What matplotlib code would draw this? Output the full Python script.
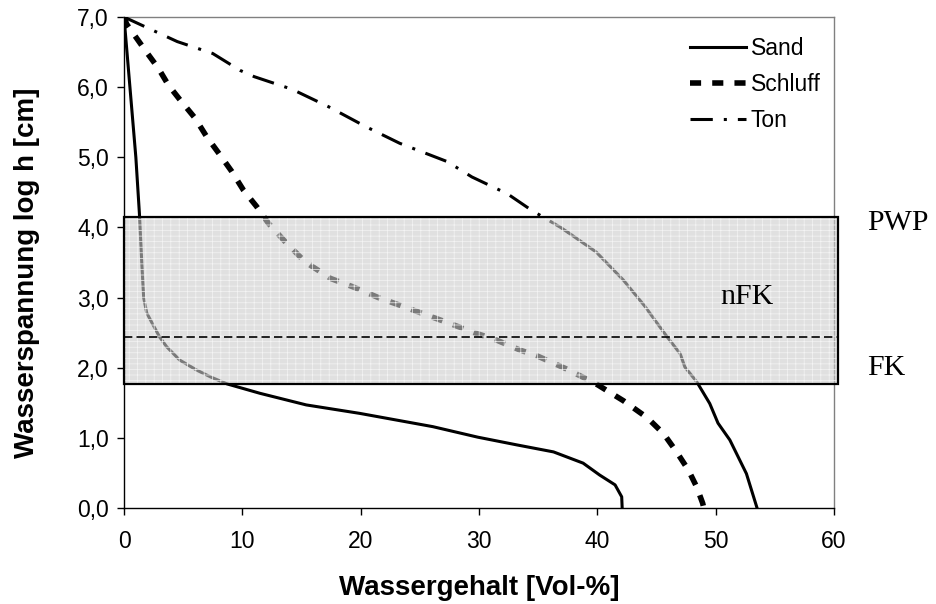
import matplotlib
matplotlib.use("Agg")
import matplotlib.pyplot as plt
from matplotlib.patches import Rectangle
from matplotlib.ticker import FuncFormatter

# Wassergehalt [Vol-%] vs. log h [cm]
sand_x = [0.0, 0.5, 1.0, 1.3, 1.5, 1.66, 1.92, 3.0, 3.6, 4.7, 6.1, 7.3, 8.7, 11.5, 15.4, 19.9,
          26.1, 29.9, 33.2, 36.3, 38.8, 40.2, 41.5, 42.06, 42.1]
sand_y = [7.0, 6.0, 5.0, 4.2, 3.5, 3.0, 2.78, 2.44, 2.3, 2.11, 1.97, 1.87, 1.77, 1.635, 1.47, 1.35,
          1.16, 1.01, 0.90, 0.80, 0.64, 0.47, 0.33, 0.16, 0.0]

schluff_x = [0.0, 0.22, 1.77, 2.9, 3.75, 4.73, 6.0, 7.0, 8.0, 9.1, 10.1, 11.2, 12.2, 13.6, 15.3,
             17.5, 19.4, 21.5, 23.5, 25.6, 27.4, 29.6, 31.4, 33.5, 34.9, 37.3, 39.8, 42.2, 44.2,
             45.6, 46.7, 47.7, 48.4, 48.9, 49.0]
schluff_y = [7.0, 6.9, 6.53, 6.27, 6.03, 5.82, 5.56, 5.29, 5.06, 4.8, 4.53, 4.3, 4.06, 3.8, 3.51,
             3.27, 3.15, 3.0, 2.88, 2.75, 2.64, 2.5, 2.4, 2.25, 2.17, 1.99, 1.78, 1.53, 1.29,
             1.06, 0.80, 0.54, 0.30, 0.07, 0.0]

ton_x = [0.0, 4.5, 7.5, 9.8, 11.0, 14.2, 17.3, 20.4, 23.3, 27.3, 29.4, 32.4, 34.4, 36.9, 37.6,
         39.9, 42.2, 44.0, 45.9, 47.0, 47.4, 48.4, 49.5, 50.2, 51.2, 52.6, 53.5]
ton_y = [7.0, 6.65, 6.48, 6.24, 6.15, 5.97, 5.72, 5.44, 5.2, 4.94, 4.72, 4.48, 4.25, 4.0, 3.92,
         3.65, 3.25, 2.88, 2.44, 2.2, 2.01, 1.8, 1.49, 1.21, 0.97, 0.49, 0.0]
ton_split = 14  # ab hier dichte Punkte -> durchgezogen

nfk_bottom = 1.77   # FK
nfk_top = 4.15      # PWP
fk_line = 2.44

plt.rcParams['font.family'] = ['Liberation Sans', 'DejaVu Sans']
plt.rcParams['hatch.linewidth'] = 0.5

fig = plt.figure(figsize=(9.36, 6.04), dpi=100)
ax = fig.add_axes([0.1325, 0.1589, 0.7585, 0.8129])

ax.plot(sand_x, sand_y, color='black', lw=2.2, label='Sand', zorder=3)
ax.plot(schluff_x, schluff_y, color='black', lw=4, linestyle=(0, (2, 2)), label='Schluff', zorder=3)
ax.plot(ton_x[:ton_split + 1], ton_y[:ton_split + 1], color='black', lw=2.2,
        linestyle=(0, (7.3, 3.6, 1, 3.6)), label='Ton', zorder=3)
ax.plot(ton_x[ton_split:], ton_y[ton_split:], color='black', lw=2.2, zorder=3)

# nFK-Bereich
ax.add_patch(Rectangle((0, nfk_bottom), 60.3, nfk_top - nfk_bottom, facecolor='#cccccc',
                       alpha=0.6, edgecolor='none', zorder=4, clip_on=False))
ax.add_patch(Rectangle((0, nfk_bottom), 60.3, nfk_top - nfk_bottom, facecolor='none',
                       hatch='||---', edgecolor='#f4f4f4', lw=0, zorder=4, clip_on=False))
ax.add_patch(Rectangle((0, nfk_bottom), 60.3, nfk_top - nfk_bottom, facecolor='none',
                       edgecolor='black', lw=1.6, zorder=5, clip_on=False))
ax.plot([0, 60.3], [fk_line, fk_line], color='black', lw=1.2, linestyle=(0, (5, 2.5)),
        zorder=5, clip_on=False)

ax.text(62.8, 4.06, 'PWP', family='Liberation Serif', fontsize=21.5, ha='left', va='center')
ax.text(62.8, 2.0, 'FK', family='Liberation Serif', fontsize=21.5, ha='left', va='center')
ax.text(50.4, 3.01, 'nFK', family='Liberation Serif', fontsize=21.5, ha='left', va='center', zorder=6)

ax.set_xlim(0, 60)
ax.set_ylim(0, 7)
ax.set_xticks(range(0, 61, 10))
ax.set_yticks(range(0, 8))
ax.yaxis.set_major_formatter(FuncFormatter(lambda v, p: f'{v:.1f}'.replace('.', ',')))
ax.tick_params(direction='out', length=5, width=1, labelsize=16.5, colors='black')
ax.tick_params(axis='x', pad=11)
ax.tick_params(axis='y', pad=6)

for s in ['top', 'right']:
    ax.spines[s].set_color('#808080')
    ax.spines[s].set_linewidth(1)
for s in ['left', 'bottom']:
    ax.spines[s].set_color('black')
    ax.spines[s].set_linewidth(1)

ax.set_xlabel('Wassergehalt [Vol-%]', fontsize=20, fontweight='bold')
ax.set_ylabel('Wasserspannung log h [cm]', fontsize=20, fontweight='bold')
ax.xaxis.set_label_coords(0.5, -0.137)
ax.yaxis.set_label_coords(-0.118, 0.48)

ax.legend(loc='upper left', bbox_to_anchor=(0.797, 0.959), frameon=False, fontsize=16.5,
          borderpad=0, borderaxespad=0, handlelength=2.45, handletextpad=0.2, labelspacing=0.57)

fig.savefig('out.png', dpi=100)
